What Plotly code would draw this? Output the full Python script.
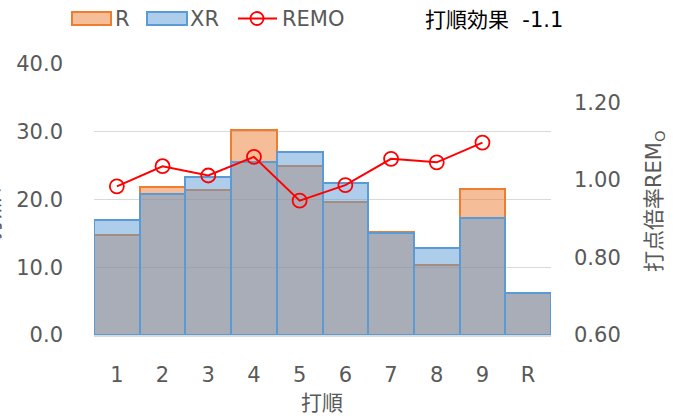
import plotly.graph_objects as go

categories = ["1", "2", "3", "4", "5", "6", "7", "8", "9", "R"]
r_values = [14.8, 21.9, 21.4, 30.3, 25.0, 19.7, 15.2, 10.4, 21.6, 6.2]
xr_values = [17.0, 20.8, 23.3, 25.6, 27.0, 22.5, 15.0, 12.9, 17.2, 6.2]
remo_categories = ["1", "2", "3", "4", "5", "6", "7", "8", "9"]
remo_values = [0.984, 1.036, 1.012, 1.060, 0.947, 0.987, 1.055, 1.046, 1.097]
left_ticks = [0, 10, 20, 30, 40]
right_ticks = [0.6, 0.8, 1.0, 1.2]

FONT = "DejaVu Sans, Noto Sans CJK JP"
GREY = "#595959"
ORANGE = "rgb(237,125,49)"
BLUE = "rgb(91,155,213)"
FS = 21

# plot area in pixels
W, H = 685, 419
L, R_, T, B = 94, 551, 64, 335


def px(x):
    return (x - L) / (R_ - L)


def py(y):
    return (B - y) / (B - T)


fig = go.Figure()
fig.add_trace(go.Bar(
    x=categories, y=r_values, name="R",
    marker=dict(color="rgba(237,125,49,0.5)", line=dict(color=ORANGE, width=2)),
))
fig.add_trace(go.Bar(
    x=categories, y=xr_values, name="XR",
    marker=dict(color="rgba(91,155,213,0.5)", line=dict(color=BLUE, width=2)),
))
fig.add_trace(go.Scatter(
    x=remo_categories, y=remo_values, name="REMO", yaxis="y2",
    mode="lines+markers",
    line=dict(color="#ff0000", width=2),
    marker=dict(symbol="circle-open", size=14, line=dict(color="#ff0000", width=1.8)),
))

shapes = [
    dict(type="rect", xref="paper", yref="paper", x0=px(72), x1=px(111), y0=py(25), y1=py(12),
         fillcolor="rgba(237,125,49,0.5)", line=dict(color=ORANGE, width=2)),
    dict(type="rect", xref="paper", yref="paper", x0=px(147), x1=px(187), y0=py(25), y1=py(12),
         fillcolor="rgba(91,155,213,0.5)", line=dict(color=BLUE, width=2)),
    dict(type="line", xref="paper", yref="paper", x0=px(238), x1=px(277), y0=py(18.5), y1=py(18.5),
         line=dict(color="#ff0000", width=2)),
    dict(type="circle", xref="paper", yref="paper", x0=px(250.5), x1=px(263.5), y0=py(25), y1=py(12),
         line=dict(color="#ff0000", width=1.8)),
]

annotations = [
    dict(text="R", x=px(113), y=py(19), xref="paper", yref="paper", xanchor="left", yanchor="middle",
         showarrow=False, font=dict(family=FONT, size=FS, color=GREY)),
    dict(text="XR", x=px(188), y=py(19), xref="paper", yref="paper", xanchor="left", yanchor="middle",
         showarrow=False, font=dict(family=FONT, size=FS, color=GREY)),
    dict(text="REMO", x=px(280), y=py(19), xref="paper", yref="paper", xanchor="left", yanchor="middle",
         showarrow=False, font=dict(family=FONT, size=FS, color=GREY)),
    dict(text="打順効果  -1.1", x=px(494), y=py(20), xref="paper", yref="paper", xanchor="center",
         yanchor="middle", showarrow=False, font=dict(family=FONT, size=FS, color="#000000")),
    dict(text="打順", x=px(322), y=py(403), xref="paper", yref="paper", xanchor="center",
         yanchor="middle", showarrow=False, font=dict(family=FONT, size=FS, color=GREY)),
    dict(text="打点倍率REM<sub>O</sub>", x=px(655), y=py(201), xref="paper", yref="paper",
         xanchor="center", yanchor="middle", textangle=-90, showarrow=False,
         font=dict(family=FONT, size=FS, color=GREY)),
    dict(text="打点 / XR", x=px(-8), y=py(195), xref="paper", yref="paper",
         xanchor="center", yanchor="middle", textangle=-90, showarrow=False,
         font=dict(family=FONT, size=FS, color=GREY)),
]

fig.update_layout(
    width=W, height=H,
    margin=dict(l=L, r=W - R_, t=T, b=H - B, pad=0, autoexpand=False),
    paper_bgcolor="white", plot_bgcolor="white",
    barmode="overlay", bargap=0,
    showlegend=False,
    font=dict(family=FONT, size=FS, color=GREY),
    xaxis=dict(
        type="category", categoryorder="array", categoryarray=categories,
        range=[-0.5, len(categories) - 0.5],
        showline=True, linecolor="#d9d9d9", linewidth=1.5, automargin=False,
        showgrid=False, ticks="", ticklabelstandoff=20,
        tickfont=dict(family=FONT, size=FS, color=GREY),
    ),
    yaxis=dict(
        range=[0, 40], tickvals=left_ticks, tickformat=".1f", automargin=False,
        showgrid=True, gridcolor="#d9d9d9", gridwidth=1.2,
        zeroline=False, showline=False, ticks="", ticklabelstandoff=30,
        tickfont=dict(family=FONT, size=FS, color=GREY),
    ),
    yaxis2=dict(
        overlaying="y", side="right", range=[0.6, 1.3], tickvals=right_ticks, tickformat=".2f",
        showgrid=False, zeroline=False, showline=False, ticks="", ticklabelstandoff=22,
        automargin=False,
        tickfont=dict(family=FONT, size=FS, color=GREY),
    ),
    shapes=shapes,
    annotations=annotations,
)

fig.write_html(
    "out.html",
    config={"displayModeBar": False},
    post_script="document.body.style.margin='0';document.body.style.overflow='hidden';",
)
